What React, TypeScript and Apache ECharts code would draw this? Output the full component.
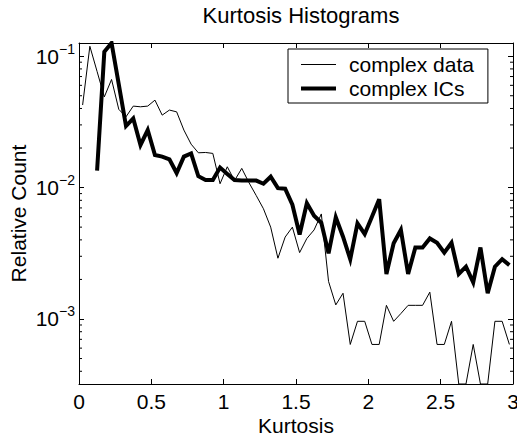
import React, { useEffect, useRef } from "react";
import * as echarts from "echarts";

const kurtosisBins = [
  0.025, 0.075, 0.125, 0.175, 0.225, 0.275, 0.325, 0.375, 0.425, 0.475,
  0.525, 0.575, 0.625, 0.675, 0.725, 0.775, 0.825, 0.875, 0.925, 0.975,
  1.025, 1.075, 1.125, 1.175, 1.225, 1.275, 1.325, 1.375, 1.425, 1.475,
  1.525, 1.575, 1.625, 1.675, 1.725, 1.775, 1.825, 1.875, 1.925, 1.975,
  2.025, 2.075, 2.125, 2.175, 2.225, 2.275, 2.325, 2.375, 2.425, 2.475,
  2.525, 2.575, 2.625, 2.675, 2.725, 2.775, 2.825, 2.875, 2.925, 2.975,
];

const complexData = [
  0.0425, 0.119, 0.0765, 0.049, 0.0665, 0.0394, 0.0346, 0.0417, 0.0412, 0.0417,
  0.0463, 0.0356, 0.0389, 0.0377, 0.0274, 0.0214, 0.0184, 0.0185, 0.0182, 0.0107,
  0.0144, 0.0113, 0.014, 0.0109, 0.0087, 0.0069, 0.005, 0.0029, 0.0042, 0.005,
  0.0032, 0.0041, 0.00476, 0.0063, 0.00193, 0.00128, 0.00157, 0.00064, 0.00096, 0.00096,
  0.00064, 0.00064, 0.00127, 0.00096, 0.0011, 0.00127, 0.00127, 0.00127, 0.0016, 0.00064,
  0.00064, 0.00096, 0.00032, 0.00032, 0.00064, 0.00032, 0.00032, 0.00096, 0.00096, 0.00064,
];

const complexICs = [
  null, null, 0.01345, 0.108, 0.126, 0.061, 0.0294, 0.0336, 0.0211, 0.0274,
  0.0177, 0.0172, 0.0164, 0.0129, 0.0172, 0.0182, 0.0122, 0.0114, 0.0114, 0.0142,
  0.0127, 0.0114, 0.0113, 0.0113, 0.0113, 0.0107, 0.0121, 0.0099, 0.0098, 0.0074,
  0.0044, 0.0076, 0.0061, 0.0054, 0.00316, 0.00594, 0.00423, 0.00285, 0.00535, 0.00443,
  0.006, 0.00815, 0.0022, 0.00377, 0.00476, 0.0022, 0.0035, 0.0035, 0.0041, 0.0038,
  0.0032, 0.0038, 0.0022, 0.0025, 0.0019, 0.0035, 0.00157, 0.0025, 0.00285, 0.00257,
];

const seriesNames = ["complex data", "complex ICs"];
const xMin = 0;
const xMax = 3;
const xInterval = 0.5;
const yMin = 0.00032;
const yMax = 0.126;
const majorTickExponents = [-3, -2, -1];
const minorTickValues = [
  0.0004, 0.0005, 0.0006, 0.0007, 0.0008, 0.0009,
  0.002, 0.003, 0.004, 0.005, 0.006, 0.007, 0.008, 0.009,
  0.02, 0.03, 0.04, 0.05, 0.06, 0.07, 0.08, 0.09,
];

const FONT = "'Liberation Sans', Arial, Helvetica, sans-serif";
const FS = 21;

export default function App() {
  const ref = useRef<HTMLDivElement>(null);

  useEffect(() => {
    if (!ref.current) return;
    const chart = echarts.init(ref.current, null, { renderer: "svg" });

    const pairs = (vals: (number | null)[]) =>
      kurtosisBins.map((x, i) => [x, vals[i] == null ? null : vals[i]]);

    const yLabelFormatter = (v: number) => {
      const lg = Math.log10(v);
      const e = Math.round(lg);
      if (Math.abs(lg - e) > 1e-6 || majorTickExponents.indexOf(e) < 0) return "";
      return `{b|10}{s|\u2212${-e}}`;
    };

    const legendIcons = ["path://M0,0H35V1H0Z", "path://M0,0H35V4H0Z"];

    const option: any = {
      animation: false,
      backgroundColor: "#fff",
      textStyle: { fontFamily: FONT, color: "#000" },
      title: {
        text: "Kurtosis Histograms",
        left: 296,
        top: -1,
        textAlign: "center",
        textStyle: { fontFamily: FONT, fontSize: 22, fontWeight: "normal", color: "#000" },
      },
      legend: {
        data: seriesNames.map((n, i) => ({ name: n, icon: legendIcons[i], itemStyle: { color: "#000" } })),
        orient: "vertical",
        left: 288,
        top: 49,
        padding: [5, 14, 4, 13],
        itemWidth: 35,
        itemHeight: 14,
        itemGap: 3,
        symbolKeepAspect: true,
        backgroundColor: "#fff",
        borderColor: "#000",
        borderWidth: 1,
        borderRadius: 0,
        textStyle: { fontFamily: FONT, fontSize: FS, color: "#000", lineHeight: 21, padding: [0, 0, 0, 8] },
      },
      grid: {
        left: 79,
        right: 4,
        top: 43,
        bottom: 50,
        containLabel: false,
        outerBoundsMode: "none",
      },
      xAxis: [
        {
          type: "value",
          min: xMin,
          max: xMax,
          interval: xInterval,
          position: "bottom",
          name: "Kurtosis",
          nameLocation: "middle",
          nameGap: 31,
          nameMoveOverlap: false,
          nameTextStyle: { fontFamily: FONT, fontSize: FS, color: "#000", lineHeight: 21 },
          axisLine: { show: true, onZero: false, lineStyle: { color: "#000", width: 1 } },
          axisTick: { show: true, inside: true, length: 5, lineStyle: { color: "#000" } },
          axisLabel: { fontFamily: FONT, fontSize: FS, color: "#000", margin: 7 },
          splitLine: { show: false },
        },
        {
          type: "value",
          min: xMin,
          max: xMax,
          interval: xInterval,
          position: "top",
          axisLine: { show: true, onZero: false, lineStyle: { color: "#000", width: 1 } },
          axisTick: { show: true, inside: true, length: 5, lineStyle: { color: "#000" } },
          axisLabel: { show: false },
          splitLine: { show: false },
        },
      ],
      yAxis: [
        {
          type: "log",
          logBase: 10,
          min: yMin,
          max: yMax,
          position: "left",
          name: "Relative Count",
          nameLocation: "middle",
          nameGap: 50,
          nameMoveOverlap: false,
          nameTextStyle: { fontFamily: FONT, fontSize: FS, color: "#000" },
          axisLine: { show: true, onZero: false, lineStyle: { color: "#000", width: 1 } },
          axisTick: { show: true, inside: true, length: 5, lineStyle: { color: "#000" } },
          axisLabel: {
            margin: 4,
            showMinLabel: false,
            showMaxLabel: false,
            formatter: yLabelFormatter,
            rich: {
              b: { fontFamily: FONT, fontSize: FS, color: "#000", lineHeight: 21, verticalAlign: "bottom" },
              s: {
                fontFamily: FONT,
                fontSize: 14,
                color: "#000",
                lineHeight: 14,
                verticalAlign: "bottom",
                padding: [0, 0, 11, 0],
              },
            },
          },
          splitLine: { show: false },
          minorTick: { show: false },
        },
        {
          type: "log",
          logBase: 10,
          min: yMin,
          max: yMax,
          position: "right",
          axisLine: { show: true, onZero: false, lineStyle: { color: "#000", width: 1 } },
          axisTick: { show: true, inside: true, length: 5, lineStyle: { color: "#000" } },
          axisLabel: { show: false },
          splitLine: { show: false },
        },
      ],
      series: [
        {
          name: seriesNames[0],
          type: "line",
          xAxisIndex: 0,
          yAxisIndex: 0,
          data: pairs(complexData),
          showSymbol: false,
          symbol: "none",
          connectNulls: false,
          lineStyle: { color: "#000", width: 1, join: "miter" },
          itemStyle: { color: "#000" },
          z: 3,
        },
        {
          name: seriesNames[1],
          type: "line",
          xAxisIndex: 0,
          yAxisIndex: 0,
          data: pairs(complexICs),
          showSymbol: false,
          symbol: "none",
          connectNulls: false,
          lineStyle: { color: "#000", width: 4, join: "miter" },
          itemStyle: { color: "#000" },
          z: 4,
        },
        {
          type: "custom",
          name: "minorTicks",
          xAxisIndex: 0,
          yAxisIndex: 0,
          silent: true,
          clip: false,
          data: minorTickValues.map((v) => [xMin, v]),
          encode: { x: 0, y: 1 },
          renderItem: (params: any, api: any) => {
            const v = api.value(1);
            const l = api.coord([xMin, v]);
            const r = api.coord([xMax, v]);
            return {
              type: "group",
              children: [
                {
                  type: "line",
                  shape: { x1: l[0], y1: l[1], x2: l[0] + 3, y2: l[1] },
                  style: { stroke: "#000", lineWidth: 1 },
                },
                {
                  type: "line",
                  shape: { x1: r[0] - 3, y1: r[1], x2: r[0], y2: r[1] },
                  style: { stroke: "#000", lineWidth: 1 },
                },
              ],
            };
          },
          z: 2,
        },
      ],
    };

    chart.setOption(option);
    return () => chart.dispose();
  }, []);

  return (
    <div
      ref={ref}
      style={{ position: "fixed", left: 0, top: 0, width: 517, height: 434, background: "#fff" }}
    />
  );
}
